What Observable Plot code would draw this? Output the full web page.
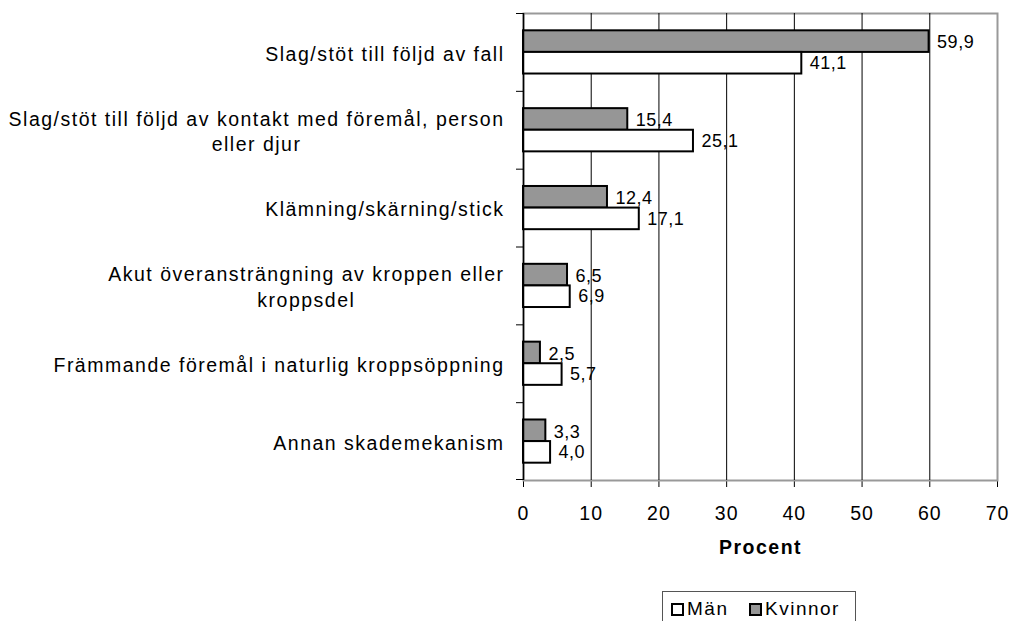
<!DOCTYPE html>
<html>
<head>
<meta charset="utf-8">
<script src="https://cdn.jsdelivr.net/npm/d3@7"></script>
<script src="https://cdn.jsdelivr.net/npm/@observablehq/plot@0.6"></script>
<style>
  html, body { margin: 0; padding: 0; background: #fff; }
  #wrap { position: relative; width: 1011px; height: 621px; overflow: hidden; font-family: "Liberation Sans", Arial, sans-serif; }
  #legend { position: absolute; left: 662px; top: 591px; width: 194px; height: 40px; border: 1px solid #555; box-sizing: border-box;
            font-size: 19px; letter-spacing: 1.5px; color: #000; }
  #legend .item { position: absolute; top: 6px; display: flex; align-items: center; }
  #legend .sw { width: 9px; height: 9px; border: 2px solid #000; margin-right: 3px; }
</style>
</head>
<body>
<div id="wrap">
  <div id="chart"></div>
  <div id="legend"></div>
</div>
<script>
// ---- data ----
const categories = [
  "Slag/stöt till följd av fall",
  "Slag/stöt till följd av kontakt med föremål, person eller djur",
  "Klämning/skärning/stick",
  "Akut överansträngning av kroppen eller kroppsdel",
  "Främmande föremål i naturlig kroppsöppning",
  "Annan skademekanism"
];
const categoryLabels = [
  "Slag/stöt till följd av fall",
  "Slag/stöt till följd av kontakt med föremål, person\neller djur",
  "Klämning/skärning/stick",
  "Akut överansträngning av kroppen eller\nkroppsdel",
  "Främmande föremål i naturlig kroppsöppning",
  "Annan skademekanism"
];
const kvinnor = [59.9, 15.4, 12.4, 6.5, 2.5, 3.3];
const man = [41.1, 25.1, 17.1, 6.9, 5.7, 4.0];
const seriesNames = ["Män", "Kvinnor"];
const seriesColors = {"Män": "#ffffff", "Kvinnor": "#969696"};
const xTicks = [0, 10, 20, 30, 40, 50, 60, 70];
const xLabel = "Procent";

// ---- layout ----
const W = 1011, H = 591;
const mTop = 13, mBottom = 111, mLeft = 523, mRight = 14;
const bw = (H - mTop - mBottom) / categories.length;
const barH = 21.6;
const gap = (bw - 2 * barH) / 2;

const rowsK = categories.map((c, i) => ({cat: c, value: kvinnor[i]}));
const rowsM = categories.map((c, i) => ({cat: c, value: man[i]}));
const labelOf = new Map(categories.map((c, i) => [c, categoryLabels[i]]));
const fmt = v => v.toFixed(1).replace(".", ",");

const chart = Plot.plot({
  width: W, height: H,
  marginTop: mTop, marginBottom: mBottom, marginLeft: mLeft, marginRight: mRight,
  style: {fontFamily: "Liberation Sans, Arial, sans-serif", fontSize: "19.5px", color: "#000", background: "#fff", letterSpacing: "1px"},
  x: {domain: [0, 70], ticks: xTicks, tickSize: 7, tickPadding: 19, line: true, label: null, tickFormat: d => String(d)},
  y: {domain: categories, axis: null, padding: 0, round: false},
  marks: [
    Plot.frame({stroke: "#999", strokeWidth: 2}),
    Plot.ruleX(xTicks.filter(d => d > 0 && d < 70), {stroke: "#000", strokeWidth: 1}),
    // category boundary ticks on the y axis
    Plot.barX(categories, {y: d => d, x1: 0, x2: 0, insetLeft: -7, insetBottom: bw - 1, fill: "#000"}),
    Plot.barX(categories.slice(-1), {y: d => d, x1: 0, x2: 0, insetLeft: -7, insetTop: bw - 1, fill: "#000"}),
    // bars
    Plot.barX(rowsK, {y: "cat", x: "value", insetTop: gap, insetBottom: gap + barH, fill: seriesColors["Kvinnor"], stroke: "#000", strokeWidth: 2}),
    Plot.barX(rowsM, {y: "cat", x: "value", insetTop: gap + barH, insetBottom: gap, fill: seriesColors["Män"], stroke: "#000", strokeWidth: 2}),
    Plot.ruleX([0], {stroke: "#000", strokeWidth: 1.5}),
    // value labels
    Plot.text(rowsK, {y: "cat", x: "value", text: d => fmt(d.value), dx: 8, dy: -barH / 2 + 1, textAnchor: "start", fontSize: 18}),
    Plot.text(rowsM, {y: "cat", x: "value", text: d => fmt(d.value), dx: 8, dy: barH / 2, textAnchor: "start", fontSize: 18}),
    // category labels
    Plot.text(categories, {y: d => d, text: d => labelOf.get(d), frameAnchor: "left", dx: -19, textAnchor: "end", fontSize: 19.5, lineHeight: 1.3}),
    // axis title
    Plot.text([xLabel], {frameAnchor: "bottom", dy: 73, text: d => d, fontSize: 19.5, fontWeight: "bold"})
  ]
});
document.getElementById("chart").appendChild(chart);

const svg = d3.select(chart);
const flatLabels = new Set(categoryLabels.map(s => s.replace("\n", "")));
svg.selectAll("text").each(function() {
  const t = this.textContent;
  if (flatLabels.has(t)) this.style.letterSpacing = "1.5px";
  else if (t === xLabel) this.style.letterSpacing = "1.5px";
  else if (/^\d+,\d$/.test(t)) this.style.letterSpacing = "0.5px";
});

// center multi-line category labels within their block (right-aligned block)
svg.selectAll("text").each(function() {
  const tspans = this.querySelectorAll("tspan");
  if (tspans.length > 1) {
    let maxW = 0;
    tspans.forEach(t => { maxW = Math.max(maxW, t.getComputedTextLength()); });
    this.setAttribute("text-anchor", "middle");
    this.style.textAnchor = "middle";
    const tr = this.getAttribute("transform") || "";
    this.setAttribute("transform", tr + ` translate(${-maxW / 2},0)`);
  }
});
svg.selectAll("[aria-label='x-axis'] path.domain, [aria-label='x-axis'] .domain").attr("stroke-width", 2);

// legend
const legend = d3.select("#legend");
const pos = {"Män": 8, "Kvinnor": 86};
seriesNames.forEach(s => {
  const it = legend.append("div").attr("class", "item").style("left", pos[s] + "px");
  it.append("div").attr("class", "sw").style("background", seriesColors[s]);
  it.append("span").text(s);
});
</script>
</body>
</html>
